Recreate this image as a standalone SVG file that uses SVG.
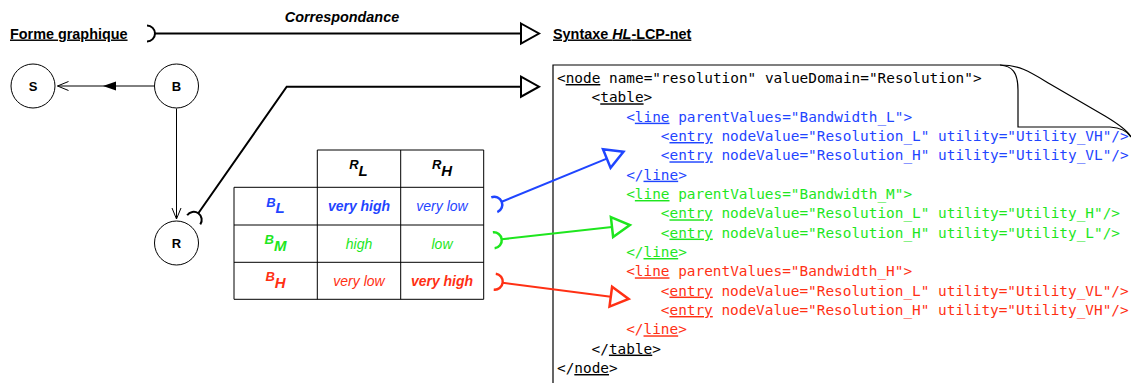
<svg xmlns="http://www.w3.org/2000/svg" width="1131" height="383" viewBox="0 0 1131 383">
<style>
.hdr{font-family:"Liberation Sans",Arial,sans-serif;font-weight:bold;font-size:14.4px;fill:#000}
.ul{text-decoration:underline}
.node circle{fill:#fff;stroke:#000;stroke-width:1}
.node text{font-family:"Liberation Sans",Arial,sans-serif;font-weight:bold;font-size:13px;text-anchor:middle}
.tbl{stroke:#000;stroke-width:1;fill:none}
.cell{font-family:"Liberation Sans",Arial,sans-serif;font-style:italic;font-size:14px;text-anchor:middle}
.sym{font-family:"Liberation Sans",Arial,sans-serif;font-style:italic;font-weight:bold;font-size:13px;text-anchor:middle}
.b{font-weight:bold}
.code{font-family:"DejaVu Sans Mono","Liberation Mono",monospace;font-size:14.4px}
.blue{fill:#1f45ff}.green{fill:#1ee61e}.red{fill:#ff3014}.black{fill:#000}
.conn{fill:none;stroke-width:2}
</style>
<defs>
<marker id="triK" markerUnits="userSpaceOnUse" orient="auto" refX="0" refY="0" markerWidth="30" markerHeight="30" overflow="visible"><path d="M0 -10 L18 0 L0 10 Z" fill="#fff" stroke="#000" stroke-width="2" stroke-linejoin="miter"/></marker>
<marker id="triB" markerUnits="userSpaceOnUse" orient="auto" refX="0" refY="0" markerWidth="30" markerHeight="30" overflow="visible"><path d="M0 -10 L18 0 L0 10 Z" fill="#fff" stroke="#1f45ff" stroke-width="2.5"/></marker>
<marker id="triG" markerUnits="userSpaceOnUse" orient="auto" refX="0" refY="0" markerWidth="30" markerHeight="30" overflow="visible"><path d="M0 -10 L18 0 L0 10 Z" fill="#fff" stroke="#1ee61e" stroke-width="2.5"/></marker>
<marker id="triR" markerUnits="userSpaceOnUse" orient="auto" refX="0" refY="0" markerWidth="30" markerHeight="30" overflow="visible"><path d="M0 -10 L18 0 L0 10 Z" fill="#fff" stroke="#ff3014" stroke-width="2.5"/></marker>
<marker id="sockK" markerUnits="userSpaceOnUse" orient="auto" refX="0" refY="0" markerWidth="30" markerHeight="30" overflow="visible"><path d="M-8 -8 A8 8 0 0 1 -8 8" fill="none" stroke="#000" stroke-width="2"/></marker>
<marker id="sockB" markerUnits="userSpaceOnUse" orient="auto" refX="0" refY="0" markerWidth="30" markerHeight="30" overflow="visible"><path d="M-8 -8 A8 8 0 0 1 -8 8" fill="none" stroke="#1f45ff" stroke-width="2.5"/></marker>
<marker id="sockG" markerUnits="userSpaceOnUse" orient="auto" refX="0" refY="0" markerWidth="30" markerHeight="30" overflow="visible"><path d="M-8 -8 A8 8 0 0 1 -8 8" fill="none" stroke="#1ee61e" stroke-width="2.5"/></marker>
<marker id="sockR" markerUnits="userSpaceOnUse" orient="auto" refX="0" refY="0" markerWidth="30" markerHeight="30" overflow="visible"><path d="M-8 -8 A8 8 0 0 1 -8 8" fill="none" stroke="#ff3014" stroke-width="2.5"/></marker>
<marker id="vee" markerUnits="userSpaceOnUse" orient="auto" refX="0" refY="0" markerWidth="20" markerHeight="20" overflow="visible"><path d="M-11 -4.5 L0 0 L-11 4.5" fill="none" stroke="#000" stroke-width="1"/></marker>
</defs>
<rect width="1131" height="383" fill="#fff"/>

<g id="headers">
<text class="hdr ul" x="10" y="38.5">Forme graphique</text>
<text class="hdr" x="342" y="22" text-anchor="middle" font-style="italic">Correspondance</text>
<text class="hdr ul" x="553" y="38.5">Syntaxe <tspan font-style="italic">HL</tspan>-LCP-net</text>
</g>

<g id="node-S" class="node"><circle cx="33" cy="86" r="22"/><text x="33" y="90.5">S</text></g>
<g id="node-B" class="node"><circle cx="176.5" cy="86" r="22"/><text x="176.5" y="90.5">B</text></g>
<g id="node-R" class="node"><circle cx="176.5" cy="243" r="22"/><text x="176.5" y="247.5">R</text></g>

<g id="table">
<path class="tbl" d="M317.3 150 H483.7 M234 187.3 H483.7 M234 225 H483.7 M234 262.3 H483.7 M234 299.3 H483.7 M234 187.3 V299.3 M317.3 150 V299.3 M400.7 150 V299.3 M483.7 150 V299.3"/>
<text class="sym" x="358.5" y="169.3">R<tspan dy="6.5" font-size="15">L</tspan></text>
<text class="sym" x="442" y="169.3">R<tspan dy="6.5" font-size="15">H</tspan></text>
<text class="sym blue" x="275.5" y="206.5">B<tspan dy="6.5" font-size="15">L</tspan></text>
<text class="sym green" x="275.5" y="244">B<tspan dy="6.5" font-size="15">M</tspan></text>
<text class="sym red" x="275.5" y="281">B<tspan dy="6.5" font-size="15">H</tspan></text>
<text class="cell blue b" x="359" y="211">very high</text>
<text class="cell blue" x="442" y="211">very low</text>
<text class="cell green" x="359" y="248.5">high</text>
<text class="cell green" x="442" y="248.5">low</text>
<text class="cell red" x="359" y="285.5">very low</text>
<text class="cell red b" x="442" y="285.5">very high</text>
</g>

<g id="code-page">
<path d="M553 390 V65 H1000" fill="none" stroke="#000" stroke-width="1.2"/>
<path d="M1000 65 C1020 65 1030 72 1050 84 L1105 116 C1120 125 1128 131 1131 137" fill="none" stroke="#000" stroke-width="1.2"/>
<path d="M1000 65 C1012 66 1018 72 1018 90 L1018 127 L1110 127 C1122 128 1128 132 1131 137" fill="none" stroke="#000" stroke-width="1.2"/>
<g class="code">
<text class="black" x="557" y="83">&lt;<tspan class="ul">node</tspan> name="resolution" valueDomain="Resolution"&gt;</text>
<text class="black" x="591.6" y="102.3">&lt;<tspan class="ul">table</tspan>&gt;</text>
<text class="blue" x="626.2" y="121.7">&lt;<tspan class="ul">line</tspan> parentValues="Bandwidth_L"&gt;</text>
<text class="blue" x="660.8" y="141">&lt;<tspan class="ul">entry</tspan> nodeValue="Resolution_L" utility="Utility_VH"/&gt;</text>
<text class="blue" x="660.8" y="160.3">&lt;<tspan class="ul">entry</tspan> nodeValue="Resolution_H" utility="Utility_VL"/&gt;</text>
<text class="blue" x="626.2" y="179.7">&lt;/<tspan class="ul">line</tspan>&gt;</text>
<text class="green" x="626.2" y="199">&lt;<tspan class="ul">line</tspan> parentValues="Bandwidth_M"&gt;</text>
<text class="green" x="660.8" y="218.3">&lt;<tspan class="ul">entry</tspan> nodeValue="Resolution_L" utility="Utility_H"/&gt;</text>
<text class="green" x="660.8" y="237.6">&lt;<tspan class="ul">entry</tspan> nodeValue="Resolution_H" utility="Utility_L"/&gt;</text>
<text class="green" x="626.2" y="257">&lt;/<tspan class="ul">line</tspan>&gt;</text>
<text class="red" x="626.2" y="276.3">&lt;<tspan class="ul">line</tspan> parentValues="Bandwidth_H"&gt;</text>
<text class="red" x="660.8" y="295.6">&lt;<tspan class="ul">entry</tspan> nodeValue="Resolution_L" utility="Utility_VL"/&gt;</text>
<text class="red" x="660.8" y="315">&lt;<tspan class="ul">entry</tspan> nodeValue="Resolution_H" utility="Utility_VH"/&gt;</text>
<text class="red" x="626.2" y="334.3">&lt;/<tspan class="ul">line</tspan>&gt;</text>
<text class="black" x="591.6" y="353.6">&lt;/<tspan class="ul">table</tspan>&gt;</text>
<text class="black" x="557" y="373">&lt;/<tspan class="ul">node</tspan>&gt;</text>
</g>
</g>

<g id="connectors">
<path d="M154 86 L57.5 86" fill="none" stroke="#000" stroke-width="1" marker-end="url(#vee)"/>
<polygon points="103,86 116,81.5 116,90.5" fill="#000"/>
<path d="M176.5 108.5 L176.5 219" fill="none" stroke="#000" stroke-width="1" marker-end="url(#vee)"/>
<path class="conn" stroke="#000" d="M155 33.5 L521 33.5" marker-start="url(#sockK)" marker-end="url(#triK)"/>
<path class="conn" stroke="#000" d="M198.3 213.3 L286.7 86.7 L521 86.7" marker-start="url(#sockK)" marker-end="url(#triK)"/>
<path class="conn" stroke="#1f45ff" stroke-width="2.5" d="M501.7 201.7 L606.8 158.6" marker-start="url(#sockB)" marker-end="url(#triB)"/>
<path class="conn" stroke="#1ee61e" stroke-width="2.5" d="M501.7 239.3 L612 227" marker-start="url(#sockG)" marker-end="url(#triG)"/>
<path class="conn" stroke="#ff3014" stroke-width="2.5" d="M502.7 282.7 L610.8 296.7" marker-start="url(#sockR)" marker-end="url(#triR)"/>
</g>
</svg>
